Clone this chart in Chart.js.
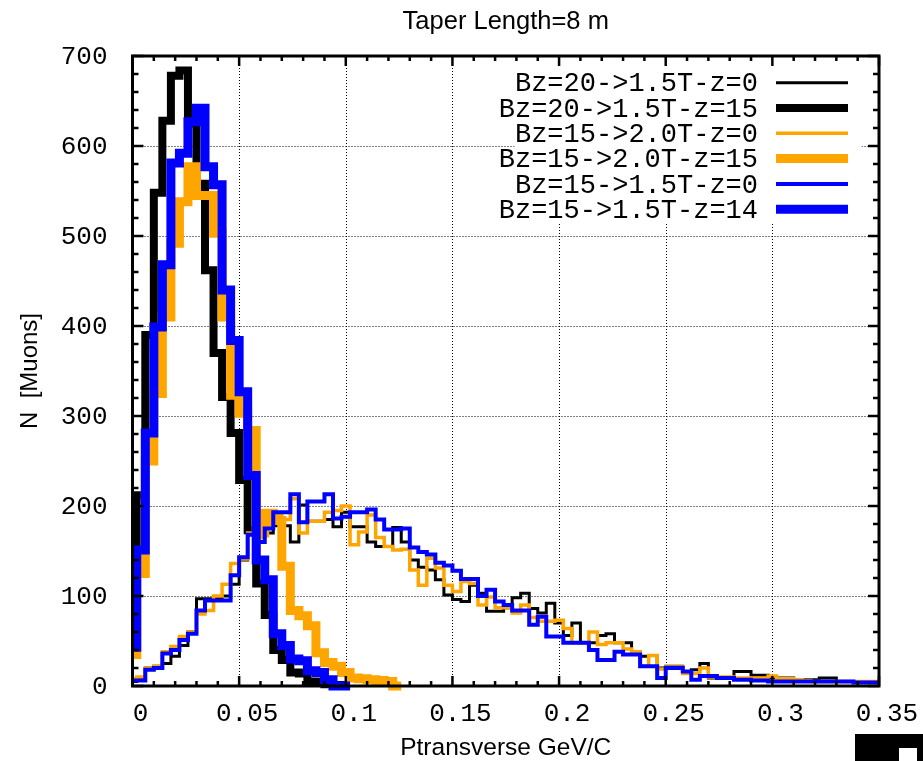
<!DOCTYPE html>
<html>
<head>
<meta charset="utf-8">
<script src="https://cdn.jsdelivr.net/npm/chart.js@4.4.1/dist/chart.umd.min.js"></script>
<style>
  html, body { margin: 0; padding: 0; background: #fff; }
</style>
</head>
<body>
<canvas id="myChart" width="923" height="761"></canvas>
<script>
// histogram bins are 0.004 GeV/C wide, centred on 0, 0.004, 0.008 ...
var binWidth = 0.004;

var xTicks = [0, 0.05, 0.1, 0.15, 0.2, 0.25, 0.3, 0.35];
var xTickLabels = ['0', '0.05', '0.1', '0.15', '0.2', '0.25', '0.3', '0.35'];
var yTicks = [0, 100, 200, 300, 400, 500, 600, 700];

var names = ['Bz=20->1.5T-z=0', 'Bz=20->1.5T-z=15', 'Bz=15->2.0T-z=0',
             'Bz=15->2.0T-z=15', 'Bz=15->1.5T-z=0', 'Bz=15->1.5T-z=14'];
var colors = ['#000000', '#000000', '#ffa500', '#ffa500', '#0000ff', '#0000ff'];
var widths = [3, 8, 3.5, 9, 4, 9];

// counts per bin
var bz20_15_z0 = [5, 8, 20, 22, 25, 33, 45, 60, 97, 97,
  98, 100, 113, 140, 175, 165, 170, 178, 178, 160,
  201, 183, 183, 185, 177, 193, 177, 177, 160, 155,
  155, 176, 160, 140, 132, 129, 118, 101, 96, 94,
  112, 103, 83, 83, 87, 98, 103, 86, 81, 92,
  70, 56, 70, 48, 48, 56, 58, 48, 48, 38,
  33, 34, 20, 22, 22, 14, 18, 25, 9, 9,
  9, 16, 16, 12, 12, 9, 9, 9, 7, 7,
  7, 9, 9, 5, 5, 5, 5, 5];
var bz20_15_z15 = [160, 212, 390, 548, 628, 678, 684, 625, 558, 462,
  370, 321, 281, 229, 173, 114, 79, 40, 29, 15,
  14, 5, 5, 2, 1, 0];
var bz15_20_z0 = [8, 10, 20, 22, 38, 44, 55, 60, 80, 84,
  100, 113, 136, 141, 170, 165, 178, 190, 185, 208,
  170, 183, 183, 193, 195, 200, 157, 171, 190, 165,
  155, 151, 152, 129, 112, 142, 131, 112, 105, 116,
  114, 90, 99, 87, 87, 81, 90, 76, 72, 72,
  73, 64, 48, 48, 60, 46, 48, 48, 41, 38,
  22, 34, 19, 21, 21, 14, 14, 20, 10, 10,
  10, 9, 9, 9, 9, 11, 8, 8, 7, 6,
  5, 5, 5, 5, 5, 5, 5, 5];
var bz15_20_z15 = [35, 125, 250, 325, 410, 492, 538, 577, 545, 545,
  503, 410, 323, 303, 284, 170, 192, 184, 133, 84,
  78, 67, 37, 26, 22, 15, 9, 8, 7, 6,
  5, 0];
var bz15_15_z0 = [6, 6, 18, 20, 36, 40, 51, 58, 84, 95,
  95, 95, 123, 143, 168, 160, 175, 193, 193, 213,
  182, 205, 205, 213, 186, 188, 193, 193, 196, 185,
  174, 174, 175, 154, 149, 146, 137, 134, 128, 119,
  119, 100, 107, 94, 90, 84, 84, 68, 77, 55,
  55, 48, 48, 48, 40, 29, 29, 38, 35, 35,
  22, 22, 9, 20, 20, 16, 7, 11, 11, 9,
  9, 7, 7, 6, 6, 5, 5, 5, 5, 5,
  5, 5, 5, 5, 5, 4, 4, 4];
var bz15_15_z14 = [43, 151, 281, 399, 468, 581, 592, 627, 642, 577,
  557, 440, 384, 327, 234, 140, 118, 58, 45, 30,
  28, 17, 15, 7, 0, 0];

var series = [bz20_15_z0, bz20_15_z15, bz15_20_z0, bz15_20_z15, bz15_15_z0, bz15_15_z14];

// gnuplot "histeps": up from 0 at the first edge, flat over each bin, down at the end
// (with stepped 'before' each point's y is held back to the previous point)
function stepPoints(values) {
  var pts = [{x: -binWidth / 2, y: 0}];
  for (var k = 0; k < values.length; k++) {
    pts.push({x: (k - 0.5) * binWidth, y: values[k]});
    pts.push({x: (k + 0.5) * binWidth, y: values[k]});
  }
  var end = (values.length - 0.5) * binWidth;
  pts.push({x: end, y: 0});
  return pts;
}

var datasets = series.map(function(vals, i) {
  return {
    label: names[i],
    data: stepPoints(vals),
    stepped: 'before',
    borderColor: colors[i],
    borderWidth: widths[i],
    borderJoinStyle: 'miter',
    borderCapStyle: 'butt',
    pointRadius: 0,
    fill: false,
    order: series.length - i, // last series on top, like gnuplot
    clip: {left: 0, top: 0, right: 0, bottom: 5}
  };
});

var monoFont = '"Liberation Mono", "Courier New", monospace';
var sansFont = '"Liberation Sans", Arial, sans-serif';

function seg(ctx, x1, y1, x2, y2) {
  ctx.beginPath();
  ctx.moveTo(x1, y1);
  ctx.lineTo(x2, y2);
  ctx.stroke();
}

var framePlugin = {
  id: 'frame',
  beforeDatasetsDraw: function(chart) {
    var ctx = chart.ctx, a = chart.chartArea;
    var xs = chart.scales.x, ys = chart.scales.y;
    ctx.save();
    ctx.strokeStyle = '#000';
    ctx.lineWidth = 1;
    ctx.setLineDash([1, 2]);
    xTicks.slice(1, -1).forEach(function(v) {
      var px = Math.round(xs.getPixelForValue(v)) + 0.5;
      seg(ctx, px, a.top, px, a.bottom);
    });
    yTicks.slice(1, -1).forEach(function(v) {
      var py = Math.round(ys.getPixelForValue(v)) + 0.5;
      seg(ctx, a.left, py, a.right, py);
    });
    ctx.setLineDash([]);
    // opaque key box
    ctx.fillStyle = '#fff';
    ctx.fillRect(a.left + 382, a.top, 347, 168);
    ctx.restore();
  },
  afterDatasetsDraw: function(chart) {
    var ctx = chart.ctx, a = chart.chartArea;
    var xs = chart.scales.x, ys = chart.scales.y;
    ctx.save();
    ctx.strokeStyle = '#000';
    ctx.lineWidth = 3;
    ctx.strokeRect(a.left, a.top, a.right - a.left, a.bottom - a.top);

    // inward ticks on all four sides
    ctx.lineWidth = 2.5;
    for (var i = 0; i <= 35; i++) {
      var major = i % 5 === 0;
      var px = xs.getPixelForValue(i * 0.01);
      var len = major ? 10 : 5;
      seg(ctx, px, a.bottom, px, a.bottom - len);
      seg(ctx, px, a.top, px, a.top + len);
      var py = ys.getPixelForValue(i * 20);
      len = major ? 11 : 6;
      seg(ctx, a.left, py, a.left + len, py);
      seg(ctx, a.right, py, a.right - len, py);
    }

    // key
    ctx.font = '27px ' + monoFont;
    ctx.textAlign = 'right';
    ctx.textBaseline = 'middle';
    ctx.fillStyle = '#000';
    for (var j = 0; j < names.length; j++) {
      var y = a.top + 26.7 + j * 25.3;
      ctx.fillText(names[j], 758, y + 1.5);
      ctx.strokeStyle = colors[j];
      ctx.lineWidth = widths[j];
      seg(ctx, 776, y, 848, y);
    }

    // title
    ctx.font = '25.5px ' + sansFont;
    ctx.textAlign = 'center';
    ctx.fillStyle = '#000';
    ctx.fillText('Taper Length=8 m', (a.left + a.right) / 2, 21.5);

    // little badge in the corner
    ctx.fillStyle = '#000';
    ctx.fillRect(855, 734, 68, 27);
    ctx.fillStyle = '#fff';
    ctx.fillRect(899, 748, 18, 13);
    ctx.restore();
  }
};

var ctx = document.getElementById('myChart').getContext('2d');
var myChart = new Chart(ctx, {
  type: 'line',
  data: { datasets: datasets },
  options: {
    responsive: false,
    devicePixelRatio: 1,
    animation: false,
    layout: { padding: { top: 56, right: 44, bottom: 0, left: 0 } },
    plugins: {
      legend: { display: false },
      tooltip: { enabled: false },
      title: { display: false }
    },
    scales: {
      x: {
        type: 'linear',
        min: 0,
        max: 0.35,
        afterFit: function(s) { s.height = 75; },
        afterBuildTicks: function(s) { s.ticks = xTicks.map(function(v) { return {value: v}; }); },
        grid: { display: false },
        border: { display: false },
        ticks: {
          autoSkip: false,
          maxRotation: 0,
          color: '#000',
          font: { family: monoFont, size: 26 },
          padding: 5,
          labelOffset: 8,
          callback: function(v, idx) { return xTickLabels[idx]; }
        },
        title: {
          display: true,
          text: 'Ptransverse GeV/C',
          color: '#000',
          font: { family: sansFont, size: 24.5, lineHeight: 1 },
          padding: { top: 0, bottom: 0.5 }
        }
      },
      y: {
        min: 0,
        max: 700,
        afterFit: function(s) { s.width = 132.5; },
        afterBuildTicks: function(s) { s.ticks = yTicks.map(function(v) { return {value: v}; }); },
        grid: { display: false },
        border: { display: false },
        ticks: {
          color: '#000',
          font: { family: monoFont, size: 26 },
          padding: 17,
          labelOffset: 1.5
        },
        title: {
          display: true,
          text: 'N  [Muons]',
          color: '#000',
          font: { family: sansFont, size: 24, lineHeight: 1 },
          padding: { top: 18, bottom: 0 }
        }
      }
    }
  },
  plugins: [framePlugin]
});
</script>
</body>
</html>
